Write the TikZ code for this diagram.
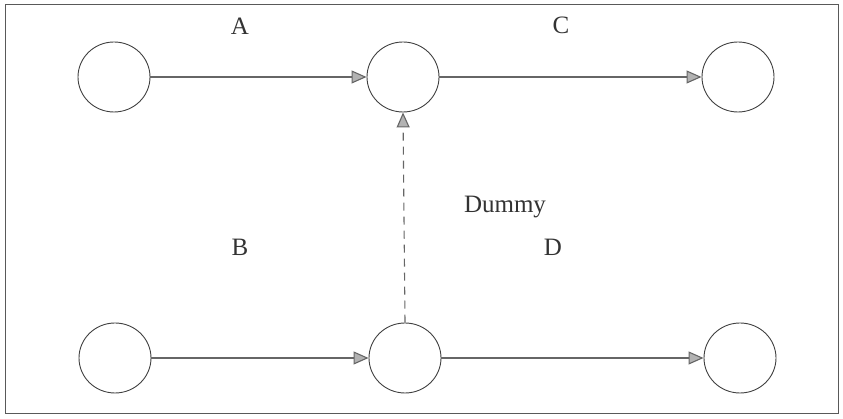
\documentclass[tikz,border=0pt]{standalone}
\usepackage{fontspec}
\setmainfont{Liberation Serif}
\usetikzlibrary{arrows.meta,shapes.geometric}
\begin{document}
\begin{tikzpicture}[x=1pt,y=1pt,
  ev/.style={draw=black!75,line width=0.9pt,ellipse,minimum width=72pt,minimum height=70pt,inner sep=0pt},
  act/.style={draw=black!60,line width=1.1pt,-{Triangle[length=15pt,width=13pt,fill=gray!60]}},
  dum/.style={act,dash pattern=on 8pt off 6pt},
  lab/.style={font=\fontsize{25}{29}\selectfont,text=black!80,inner sep=0pt}]
\useasboundingbox (0,0) rectangle (843,419);
\draw[black!65,line width=0.8pt] (5,6) rectangle (838,415);
\node[ev] (n1) at (114,342) {};
\node[ev] (n2) at (403,342) {};
\node[ev] (n3) at (738,342) {};
\node[ev] (n4) at (115,61) {};
\node[ev] (n5) at (405,61) {};
\node[ev] (n6) at (740,61) {};
\draw[act] (n1) -- (n2);
\draw[act] (n2) -- (n3);
\draw[act] (n4) -- (n5);
\draw[act] (n5) -- (n6);
\draw[dum] (n5.north) -- (n2.south);
\node[lab] (la) at (240,393) {A};
\node[lab] (lc) at (561,394) {C};
\node[lab] (ld) at (505,212) {Dummy};
\node[lab] (lb) at (240,172) {B};
\node[lab] (ldd) at (553,172) {D};
\end{tikzpicture}
\end{document}
